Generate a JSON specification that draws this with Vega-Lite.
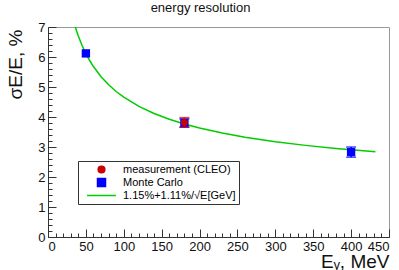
{
  "$schema": "https://vega.github.io/schema/vega-lite/v6.json",
  "autosize": {"type": "none"},
  "padding": {"left": 48, "top": 27, "right": 10, "bottom": 33},
  "width": 341,
  "height": 210,
  "background": "white",
  "title": {"text": "energy resolution", "font": "Liberation Sans", "fontSize": 13, "fontWeight": "normal", "fontStyle": "normal", "color": "#111", "anchor": "middle", "frame": "group", "dx": -18, "offset": -4, "baseline": "alphabetic"},
  "datasets": {
    "pts": [
      {"E": 50, "res": 6.12, "series": "Monte Carlo"},
      {"E": 180, "res": 3.8, "lo": 3.66, "hi": 3.94, "series": "Monte Carlo"},
      {"E": 400, "res": 2.83, "lo": 2.66, "hi": 3.0, "series": "Monte Carlo"},
      {"E": 180, "res": 3.82, "lo": 3.66, "hi": 3.98, "series": "measurement (CLEO)"}
    ],
    "fit": [
      {"E": 36, "res": 7.0}, {"E": 40, "res": 6.7}, {"E": 45, "res": 6.383}, {"E": 50, "res": 6.114},
      {"E": 55, "res": 5.883}, {"E": 60, "res": 5.682}, {"E": 70, "res": 5.345}, {"E": 80, "res": 5.074},
      {"E": 90, "res": 4.85}, {"E": 100, "res": 4.66}, {"E": 120, "res": 4.354}, {"E": 140, "res": 4.117},
      {"E": 160, "res": 3.925}, {"E": 180, "res": 3.766}, {"E": 200, "res": 3.632}, {"E": 230, "res": 3.465},
      {"E": 260, "res": 3.327}, {"E": 300, "res": 3.177}, {"E": 340, "res": 3.054}, {"E": 380, "res": 2.951},
      {"E": 400, "res": 2.905}, {"E": 432, "res": 2.839}
    ]
  },
  "config": {
    "view": {"stroke": "#999", "strokeWidth": 1},
    "axis": {"grid": false, "labelFont": "Liberation Sans", "titleFont": "Liberation Sans", "labelFontSize": 13, "labelColor": "#111", "titleColor": "#111", "titleFontWeight": "normal", "domainColor": "#333", "tickColor": "#333"}
  },
  "resolve": {"axis": {"x": "independent", "y": "independent"}},
  "layer": [
    {
      "data": {"name": "fit"},
      "transform": [{"calculate": "'1.15%+1.11%/√E[GeV]'", "as": "series"}],
      "mark": {"type": "line", "strokeWidth": 1.5},
      "encoding": {
        "x": {"field": "E", "type": "quantitative", "scale": {"domain": [0, 450], "nice": false},
          "axis": {"orient": "bottom", "values": [0, 50, 100, 150, 200, 250, 300, 350, 400, 450], "tickSize": -8, "labelPadding": 11, "title": "Eᵧ, MeV", "titleFontSize": 19, "titleAlign": "right", "titleAnchor": "end", "titleX": 341, "titleY": 30, "titleBaseline": "alphabetic"}},
        "y": {"field": "res", "type": "quantitative", "scale": {"domain": [0, 7], "nice": false},
          "axis": {"orient": "left", "values": [0, 1, 2, 3, 4, 5, 6, 7], "tickSize": -8, "labelPadding": 11, "title": "σE/E, %", "titleFontSize": 19, "titleAngle": -90, "titleX": -33, "titleY": 37, "titleAlign": "center", "titleBaseline": "middle"}},
        "color": {"field": "series", "type": "nominal",
          "scale": {"domain": ["measurement (CLEO)", "Monte Carlo", "1.15%+1.11%/√E[GeV]"], "range": ["#cc0000", "#0000ff", "#00cc00"]},
          "legend": {"orient": "none", "legendX": 30, "legendY": 134, "title": null, "direction": "vertical", "padding": 3, "strokeColor": "#333", "fillColor": "white", "cornerRadius": 0, "labelFont": "Liberation Sans", "labelFontSize": 11, "labelColor": "#000", "symbolSize": 64, "symbolOffset": 15, "labelOffset": 16, "rowPadding": -1,
            "encode": {"symbols": {"update": {
              "shape": {"signal": "datum.index === 0 ? 'circle' : datum.index === 1 ? 'square' : 'M-3.6,0H3.6'"},
              "size": {"signal": "datum.index === 0 ? 45 : 64"},
              "fill": {"signal": "datum.index === 0 ? '#cc0000' : datum.index === 1 ? '#0000ff' : 'transparent'"},
              "stroke": {"signal": "datum.index === 2 ? '#00cc00' : 'transparent'"},
              "strokeWidth": {"value": 1.5},
              "opacity": {"value": 1}
            }}}}
        }
      }
    },
    {
      "data": {"name": "fit"},
      "mark": {"type": "point", "opacity": 0},
      "encoding": {
        "x": {"field": "E", "type": "quantitative", "axis": {"orient": "bottom", "values": [10,20,30,40,60,70,80,90,110,120,130,140,160,170,180,190,210,220,230,240,260,270,280,290,310,320,330,340,360,370,380,390,410,420,430,440], "tickSize": -4, "labels": false, "domain": false, "title": null}},
        "y": {"field": "res", "type": "quantitative", "axis": {"orient": "left", "values": [0.2,0.4,0.6,0.8,1.2,1.4,1.6,1.8,2.2,2.4,2.6,2.8,3.2,3.4,3.6,3.8,4.2,4.4,4.6,4.8,5.2,5.4,5.6,5.8,6.2,6.4,6.6,6.8], "tickSize": -4, "labels": false, "domain": false, "title": null}}
      }
    },
    {
      "data": {"name": "pts"},
      "transform": [{"filter": "datum.series === 'Monte Carlo'"}],
      "layer": [
        {"transform": [{"filter": "isValid(datum.lo)"}], "mark": {"type": "rule", "strokeWidth": 1.5}, "encoding": {"x": {"field": "E", "type": "quantitative", "axis": null}, "y": {"field": "lo", "type": "quantitative", "axis": null}, "y2": {"field": "hi"}, "color": {"field": "series", "type": "nominal"}}},
        {"transform": [{"filter": "isValid(datum.lo)"}], "mark": {"type": "tick", "orient": "horizontal", "size": 10, "thickness": 1.5}, "encoding": {"x": {"field": "E", "type": "quantitative", "axis": null}, "y": {"field": "lo", "type": "quantitative", "axis": null}, "color": {"field": "series", "type": "nominal"}}},
        {"transform": [{"filter": "isValid(datum.hi)"}], "mark": {"type": "tick", "orient": "horizontal", "size": 10, "thickness": 1.5}, "encoding": {"x": {"field": "E", "type": "quantitative", "axis": null}, "y": {"field": "hi", "type": "quantitative", "axis": null}, "color": {"field": "series", "type": "nominal"}}},
        {"mark": {"type": "point", "shape": "square", "filled": true, "size": 70, "opacity": 1}, "encoding": {"x": {"field": "E", "type": "quantitative", "axis": null}, "y": {"field": "res", "type": "quantitative", "axis": null}, "color": {"field": "series", "type": "nominal"}}}
      ]
    },
    {
      "data": {"name": "pts"},
      "transform": [{"filter": "datum.series === 'measurement (CLEO)'"}],
      "layer": [
        {"mark": {"type": "rule", "strokeWidth": 1.5}, "encoding": {"x": {"field": "E", "type": "quantitative", "axis": null}, "y": {"field": "lo", "type": "quantitative", "axis": null}, "y2": {"field": "hi"}, "color": {"field": "series", "type": "nominal"}}},
        {"mark": {"type": "tick", "orient": "horizontal", "size": 10, "thickness": 1.5}, "encoding": {"x": {"field": "E", "type": "quantitative", "axis": null}, "y": {"field": "lo", "type": "quantitative", "axis": null}, "color": {"field": "series", "type": "nominal"}}},
        {"mark": {"type": "tick", "orient": "horizontal", "size": 10, "thickness": 1.5}, "encoding": {"x": {"field": "E", "type": "quantitative", "axis": null}, "y": {"field": "hi", "type": "quantitative", "axis": null}, "color": {"field": "series", "type": "nominal"}}},
        {"mark": {"type": "point", "shape": "circle", "filled": true, "size": 45, "opacity": 1}, "encoding": {"x": {"field": "E", "type": "quantitative", "axis": null}, "y": {"field": "res", "type": "quantitative", "axis": null}, "color": {"field": "series", "type": "nominal"}}}
      ]
    }
  ]
}
